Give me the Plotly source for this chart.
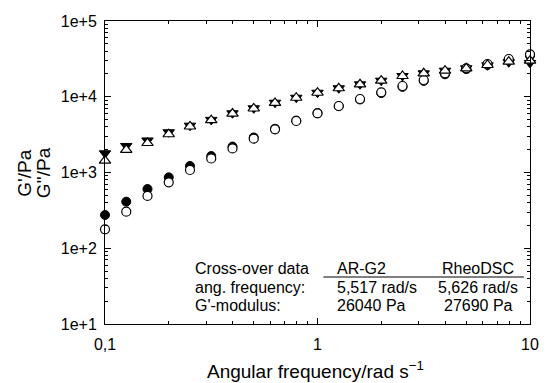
import plotly.graph_objects as go

freq = [0.1, 0.1259, 0.1585, 0.1995, 0.2512, 0.3162, 0.3981, 0.5012, 0.631, 0.7943,
        1.0, 1.259, 1.585, 1.995, 2.512, 3.162, 3.981, 5.012, 6.31, 7.943, 10.0]

g1_arg2 = [275, 412, 605, 863, 1218, 1650, 2200, 2900, 3780, 4850,
           6100, 7500, 9200, 11200, 13500, 16200, 19800, 23200, 26400, 30500, 35000]
g1_rheo = [178, 304, 490, 741, 1079, 1530, 2080, 2800, 3715, 4786,
           6050, 7550, 9340, 11450, 13870, 16640, 20400, 23750, 27060, 31500, 36300]
g2_arg2 = [1792, 2239, 2650, 3400, 4150, 4950, 6050, 7040, 8340, 9710,
           11300, 12940, 14590, 16290, 18790, 20400, 22080, 23750, 26000, 28500, 28000]
g2_rheo = [1432, 1990, 2450, 3200, 4050, 4900, 6000, 7000, 8300, 9700,
           11300, 12940, 14590, 16290, 18790, 20400, 22080, 23750, 26260, 29000, 29900]

x_tickvals = [0.1, 1, 10]
x_ticktext = ["0,1", "1", "10"]
y_tickvals = [1e1, 1e2, 1e3, 1e4, 1e5]
y_ticktext = ["1e+1", "1e+2", "1e+3", "1e+4", "1e+5"]
x_minor = [m * d for d in (0.1, 1) for m in range(2, 10)]
y_minor = [m * d for d in (10, 100, 1000, 10000) for m in range(2, 10)]

y_titles = ["G'/Pa", "G''/Pa"]
x_title = "Angular frequency/rad s<sup>\u22121</sup>"

table_rows = [
    ["Cross-over data", "AR-G2", "RheoDSC"],
    ["ang. frequency:", "5,517 rad/s", "5,626 rad/s"],
    ["G'-modulus:", "26040 Pa", "27690 Pa"],
]

FONT = "Liberation Sans, Arial, Helvetica, sans-serif"
L, R, T, B = 105, 539, 21, 324
W, H = 549, 383


def px(xp):
    return (xp - L) / (R - L)


def py(yp):
    return (B - yp) / (B - T)


fig = go.Figure()
fig.add_trace(go.Scatter(x=freq, y=g1_arg2, mode="markers", cliponaxis=False,
                         marker=dict(symbol="circle", size=9, color="black",
                                     line=dict(color="black", width=1))))
fig.add_trace(go.Scatter(x=freq, y=g2_arg2, mode="markers", cliponaxis=False,
                         marker=dict(symbol="triangle-down", size=10, color="black",
                                     line=dict(color="black", width=1))))
fig.add_trace(go.Scatter(x=freq, y=g1_rheo, mode="markers", cliponaxis=False,
                         marker=dict(symbol="circle", size=9, color="white",
                                     line=dict(color="black", width=1.2))))
fig.add_trace(go.Scatter(x=freq, y=g2_rheo, mode="markers", cliponaxis=False,
                         marker=dict(symbol="triangle-up", size=10, color="white",
                                     line=dict(color="black", width=1.2))))

axis_common = dict(type="log", showgrid=False, zeroline=False, showline=True,
                   linecolor="black", linewidth=1, mirror="ticks", ticks="inside",
                   ticklen=6, tickcolor="black", tickwidth=1,
                   tickfont=dict(family=FONT, size=16, color="black"))

fig.update_xaxes(range=[-1, 1], tickmode="array", tickvals=x_tickvals,
                 ticktext=x_ticktext, ticklabelstandoff=6,
                 minor=dict(tickmode="array", tickvals=x_minor, ticks="inside",
                            ticklen=3, tickcolor="black", showgrid=False),
                 **axis_common)
fig.update_yaxes(range=[1, 5], tickmode="array", tickvals=y_tickvals,
                 ticktext=y_ticktext, ticklabelstandoff=4,
                 minor=dict(tickmode="array", tickvals=y_minor, ticks="inside",
                            ticklen=3, tickcolor="black", showgrid=False),
                 **axis_common)

annotations = []
# axis titles
annotations.append(dict(x=px(320), y=(B - 370) / (B - T), xref="paper", yref="paper",
                        text=x_title, showarrow=False, xanchor="center",
                        yanchor="middle",
                        font=dict(family=FONT, size=19, color="black")))
for i, t in enumerate(y_titles):
    xp = [22, 42][i]
    annotations.append(dict(x=px(xp), y=py(173), xref="paper", yref="paper",
                            text=t, showarrow=False, textangle=-90,
                            xanchor="center", yanchor="middle",
                            font=dict(family=FONT, size=19, color="black")))

# table
row_y = [268, 287, 305]
col_x = [(195, "left"), (340, "left"), (486, "center")]
for r, row in enumerate(table_rows):
    for c, txt in enumerate(row):
        xpos, anchor = col_x[c]
        annotations.append(dict(x=px(xpos), y=py(row_y[r]), xref="paper",
                                yref="paper", text=txt, showarrow=False,
                                xanchor=anchor, yanchor="middle",
                                font=dict(family=FONT, size=16, color="black")))
fig.update_layout(annotations=annotations)
fig.add_shape(type="line", xref="paper", yref="paper", x0=px(328), x1=px(533),
              y0=py(277), y1=py(277), line=dict(color="black", width=1))

fig.update_layout(width=W, height=H, showlegend=False,
                  plot_bgcolor="white", paper_bgcolor="white",
                  margin=dict(l=L, r=W - R, t=T, b=H - B))

fig.write_html("out.html")
